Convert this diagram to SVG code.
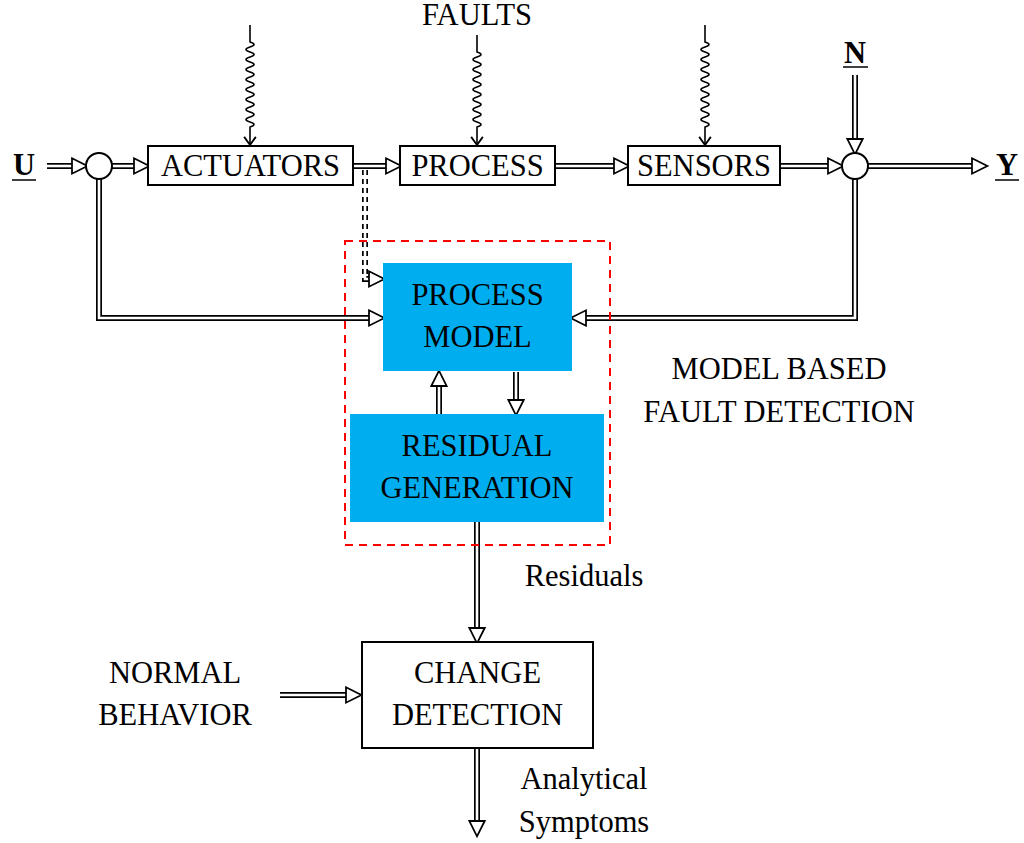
<svg xmlns="http://www.w3.org/2000/svg" width="1024" height="843" viewBox="0 0 1024 843">
<defs>
<style>
text{font-family:"Liberation Serif","DejaVu Serif",serif;font-size:30.5px;fill:#000;text-anchor:middle}
.b{font-weight:bold}
.box{fill:#fff;stroke:#000;stroke-width:2}
.blue{fill:#00AEEF;stroke:none}
.o{fill:none;stroke:#000;stroke-width:6}
.i{fill:none;stroke:#fff;stroke-width:2.6;marker-end:url(#tri)}
.d{stroke-dasharray:5 4}
.w{fill:none;stroke:#000;stroke-width:1.6}
</style>
<marker id="tri" markerUnits="userSpaceOnUse" markerWidth="22" markerHeight="22" refX="0" refY="7" orient="auto" viewBox="-2 -2 20 18">
<polygon points="0,0 14,7 0,14" fill="#fff" stroke="#000" stroke-width="1.6"/>
</marker>
<marker id="ah" markerUnits="userSpaceOnUse" markerWidth="14" markerHeight="14" refX="10" refY="6" orient="auto" viewBox="0 0 12 12">
<path d="M3,1 L10,6 L3,11" fill="none" stroke="#000" stroke-width="1.6"/>
</marker>
</defs>

<g id="connectors">
<path class="o" d="M47,166 H72"/><path class="i" d="M47,166 H72"/>
<path class="o" d="M112,166 H134"/><path class="i" d="M112,166 H134"/>
<path class="o" d="M353,166 H386"/><path class="i" d="M353,166 H386"/>
<path class="o" d="M555,166 H614"/><path class="i" d="M555,166 H614"/>
<path class="o" d="M780,166 H828"/><path class="i" d="M780,166 H828"/>
<path class="o" d="M868,166 H972"/><path class="i" d="M868,166 H972"/>
<path class="o" d="M855,75 V139"/><path class="i" d="M855,75 V139"/>
<path class="o" d="M99,179 V318 H369"/><path class="i" d="M99,179 V318 H369"/>
<path class="o" d="M855,179 V318 H586"/><path class="i" d="M855,179 V318 H586"/>
<path class="o" d="M439,414 V386"/><path class="i" d="M439,414 V386"/>
<path class="o" d="M516,372 V400"/><path class="i" d="M516,372 V400"/>
<path class="o" d="M477,522 V628"/><path class="i" d="M477,522 V628"/>
<path class="o" d="M280,695 H346"/><path class="i" d="M280,695 H346"/>
<path class="o" d="M477,748 V821"/><path class="i" d="M477,748 V821"/>
<path class="o d" d="M365,170 V279 H369"/><path class="i" d="M365,170 V279 H369"/>
<path class="w" marker-end="url(#ah)" d="M250,25 V42 q8,2.5 0,5 q-8,2.5 0,5 q8,2.5 0,5 q-8,2.5 0,5 q8,2.5 0,5 q-8,2.5 0,5 q8,2.5 0,5 q-8,2.5 0,5 q8,2.5 0,5 q-8,2.5 0,5 q8,2.5 0,5 q-8,2.5 0,5 q8,2.5 0,5 q-8,2.5 0,5 q8,2.5 0,5 q-8,2.5 0,5 q8,2.5 0,5 V145"/>
<path class="w" marker-end="url(#ah)" d="M477,35 V52 q8,2.5 0,5 q-8,2.5 0,5 q8,2.5 0,5 q-8,2.5 0,5 q8,2.5 0,5 q-8,2.5 0,5 q8,2.5 0,5 q-8,2.5 0,5 q8,2.5 0,5 q-8,2.5 0,5 q8,2.5 0,5 q-8,2.5 0,5 q8,2.5 0,5 q-8,2.5 0,5 q8,2.5 0,5 V145"/>
<path class="w" marker-end="url(#ah)" d="M705,25 V42 q8,2.5 0,5 q-8,2.5 0,5 q8,2.5 0,5 q-8,2.5 0,5 q8,2.5 0,5 q-8,2.5 0,5 q8,2.5 0,5 q-8,2.5 0,5 q8,2.5 0,5 q-8,2.5 0,5 q8,2.5 0,5 q-8,2.5 0,5 q8,2.5 0,5 q-8,2.5 0,5 q8,2.5 0,5 q-8,2.5 0,5 q8,2.5 0,5 V145"/>
</g>

<g id="fdi-frame">
<rect x="345" y="241" width="265" height="304" fill="none" stroke="#FF0000" stroke-width="2" stroke-dasharray="8 6"/>
</g>

<g id="sum1"><circle cx="99" cy="166" r="13" fill="#fff" stroke="#000" stroke-width="2"/></g>
<g id="sum2"><circle cx="855" cy="166" r="13" fill="#fff" stroke="#000" stroke-width="2"/></g>

<g id="actuators"><rect class="box" x="148" y="146" width="205" height="39"/><text x="250.5" y="176">ACTUATORS</text></g>
<g id="process"><rect class="box" x="400" y="146" width="155" height="39"/><text x="477.5" y="176">PROCESS</text></g>
<g id="sensors"><rect class="box" x="628" y="146" width="152" height="39"/><text x="704" y="176">SENSORS</text></g>

<g id="process-model"><rect class="blue" x="383" y="263" width="189" height="108"/><text x="477.5" y="305">PROCESS</text><text x="477.5" y="347">MODEL</text></g>
<g id="residual-generation"><rect class="blue" x="350" y="414" width="254" height="108"/><text x="477" y="456">RESIDUAL</text><text x="477" y="498">GENERATION</text></g>
<g id="change-detection"><rect class="box" x="362" y="642" width="231" height="106"/><text x="477.5" y="683">CHANGE</text><text x="477.5" y="725">DETECTION</text></g>

<g id="labels">
<text class="b" x="24" y="175">U</text><line x1="12" y1="180" x2="36" y2="180" stroke="#000" stroke-width="1.5"/>
<text class="b" x="855" y="63">N</text><line x1="843" y1="67" x2="868" y2="67" stroke="#000" stroke-width="1.5"/>
<text class="b" x="1007" y="175">Y</text><line x1="995" y1="180" x2="1019" y2="180" stroke="#000" stroke-width="1.5"/>
<text x="477" y="25">FAULTS</text>
<text x="779" y="379">MODEL BASED</text>
<text x="779" y="422">FAULT DETECTION</text>
<text x="584" y="586">Residuals</text>
<text x="175" y="683">NORMAL</text>
<text x="175" y="725">BEHAVIOR</text>
<text x="584" y="789">Analytical</text>
<text x="584" y="832">Symptoms</text>
</g>
</svg>
